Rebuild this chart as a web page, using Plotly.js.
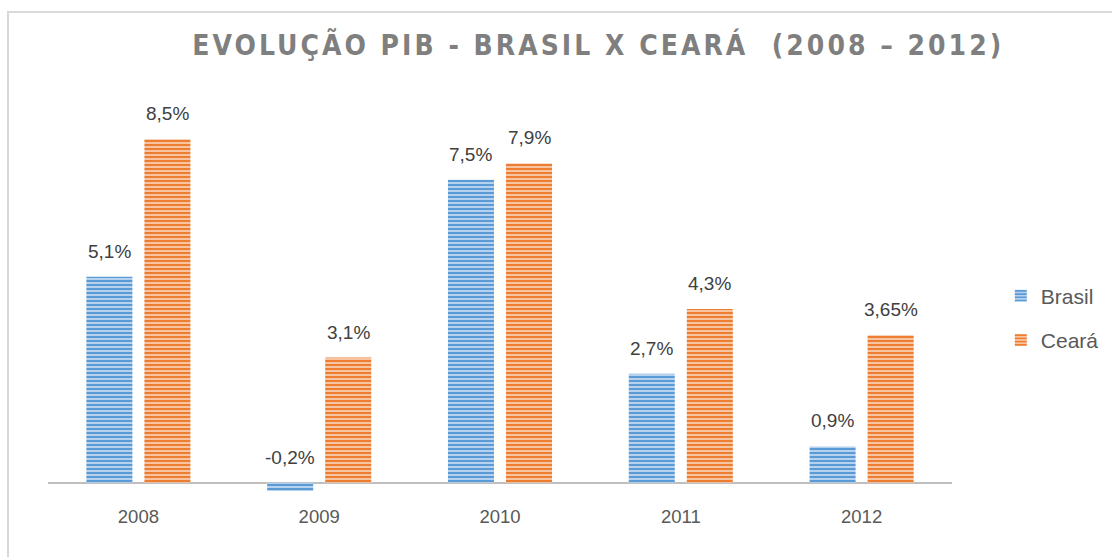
<!DOCTYPE html>
<html>
<head>
<meta charset="utf-8">
<script src="https://cdn.plot.ly/plotly-3.0.1.min.js"></script>
<style>
  html, body { margin: 0; padding: 0; background: #fff; }
  #wrap { position: relative; width: 1112px; height: 557px; overflow: hidden; }
  #chart { position: absolute; left: 0; top: 0; width: 1112px; height: 557px; }
  #frame { position: absolute; left: 7px; top: 11px; width: 1200px; height: 700px;
           border-top: 2px solid #d9d9d9; border-left: 2px solid #d9d9d9; pointer-events: none; }
  .gtitle { letter-spacing: 3px; font-stretch: condensed; }
</style>
</head>
<body>
<div id="wrap">
  <div id="chart"></div>
  <div id="frame"></div>
</div>
<script>
const years = ['2008', '2009', '2010', '2011', '2012'];
const brasil = [5.1, -0.2, 7.5, 2.7, 0.9];
const ceara = [8.5, 3.1, 7.9, 4.3, 3.65];
const seriesNames = ['Brasil', 'Ceará'];

const fmt = v => String(v).replace('.', ',') + '%';

const bargap = 0.358;
const bargroupgap = 0.207;
const slot = (1 - bargap) / 2;

const labelFont = { family: 'Liberation Sans, Arial, sans-serif', size: 19, color: '#404040' };

function barTrace(name, vals, dark, light) {
  return {
    type: 'bar', name: name, x: years, y: vals, legendgroup: name,
    marker: {
      color: dark,
      line: { width: 0 },
      pattern: { shape: '-', fgcolor: dark, bgcolor: light, size: 4, solidity: 0.5, fillmode: 'replace' }
    },
    hoverinfo: 'skip'
  };
}

const traces = [
  barTrace(seriesNames[0], brasil, '#5b9bd5', '#b5d1ee'),
  barTrace(seriesNames[1], ceara, '#ed7d31', '#f7c4a1')
];

const annotations = [];
[brasil, ceara].forEach((vals, s) => {
  vals.forEach((v, i) => {
    annotations.push({
      xref: 'x', yref: 'y',
      x: i + (s === 0 ? -slot / 2 : slot / 2),
      y: Math.max(v, 0),
      text: fmt(v), showarrow: false,
      yanchor: 'bottom', xanchor: 'center', yshift: 13,
      font: labelFont
    });
  });
});

const layout = {
  width: 1112, height: 557,
  paper_bgcolor: 'rgba(0,0,0,0)', plot_bgcolor: 'rgba(0,0,0,0)',
  margin: { l: 48, r: 160, t: 119.4, b: 61.9 },
  title: {
    text: 'EVOLUÇÃO PIB - BRASIL X CEARÁ  (2008 – 2012)',
    xref: 'container', yref: 'container', x: 0.538, xanchor: 'center', y: 0.919, yanchor: 'middle',
    font: { family: 'DejaVu Sans Condensed, DejaVu Sans, sans-serif', size: 28, weight: 'bold', color: '#7f7f7f' }
  },
  barmode: 'group', bargap: bargap, bargroupgap: bargroupgap,
  xaxis: {
    type: 'category', showgrid: false, showline: false, zeroline: false, ticks: '',
    ticklabelstandoff: 8,
    tickfont: { family: 'Liberation Sans, Arial, sans-serif', size: 18.5, color: '#595959' }
  },
  yaxis: {
    range: [-0.3, 9.0], showgrid: false, showticklabels: false, ticks: '', showline: false,
    zeroline: true, zerolinecolor: '#bfbfbf', zerolinewidth: 2
  },
  showlegend: true,
  legend: {
    xref: 'container', yref: 'container', x: 0.9, xanchor: 'left', y: 0.429, yanchor: 'middle',
    tracegroupgap: 14, traceorder: 'grouped', itemwidth: 30,
    font: { family: 'Liberation Sans, Arial, sans-serif', size: 21, color: '#595959' },
    bgcolor: 'rgba(0,0,0,0)'
  },
  annotations: annotations
};

Plotly.newPlot('chart', traces, layout, { displayModeBar: false, staticPlot: true });
</script>
</body>
</html>
